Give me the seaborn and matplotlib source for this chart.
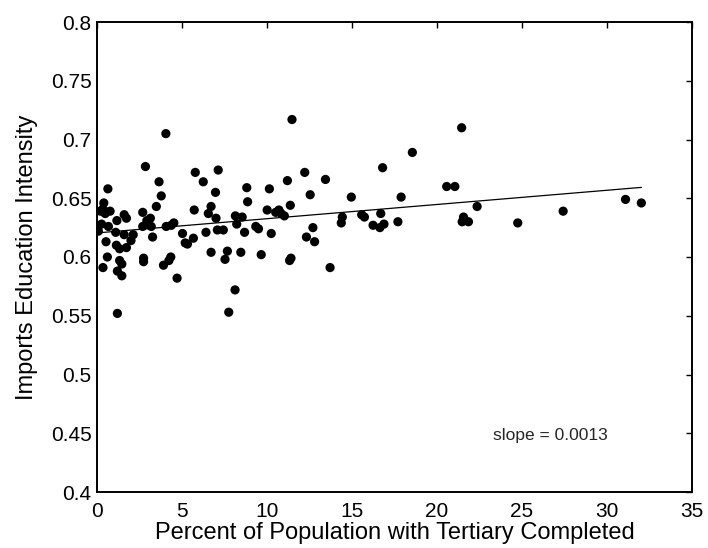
import numpy as np
import pandas as pd
import matplotlib
matplotlib.use("Agg")
import matplotlib.pyplot as plt
import seaborn as sns

# --------------------------------------------------
# Data
# --------------------------------------------------
tertiary_pct = [
    0.08, 0.27, 0.2, 0.4, 0.35, 0.48, 0.35, 0.64, 0.53, 0.61,
    0.67, 0.77, 1.1, 1.17, 1.14, 1.2, 1.2, 1.33, 1.33, 1.46,
    1.46, 1.6, 1.6, 1.73, 1.73, 2.0, 2.13, 2.69, 2.69, 2.74,
    2.74, 2.85, 2.93, 3.14, 3.19, 3.27, 3.49, 3.65, 3.78, 3.91,
    4.05, 4.07, 4.23, 4.34, 4.37, 4.52, 4.71, 5.03, 5.19, 5.32,
    5.67, 5.72, 5.78, 6.25, 6.41, 6.55, 6.71, 6.71, 6.97, 7.0,
    7.13, 7.08, 7.43, 7.53, 7.67, 7.75, 8.12, 8.14, 8.22, 8.46,
    8.54, 8.68, 8.81, 8.86, 9.34, 9.5, 9.66, 10.01, 10.14, 10.25,
    10.51, 10.7, 10.83, 11.02, 11.2, 11.33, 11.41, 11.37, 11.47, 12.22,
    12.32, 12.54, 12.7, 12.8, 13.44, 13.71, 14.37, 14.43, 14.96, 15.57,
    15.73, 16.24, 16.64, 16.69, 16.8, 16.88, 17.7, 17.89, 18.55, 20.57,
    21.05, 21.45, 21.48, 21.56, 21.85, 22.36, 24.75, 27.42, 31.09, 32.02,
]
edu_intensity = [
    0.622, 0.628, 0.639, 0.646, 0.641, 0.637, 0.591, 0.658, 0.613, 0.600,
    0.626, 0.639, 0.621, 0.631, 0.610, 0.588, 0.552, 0.607, 0.597, 0.594,
    0.584, 0.636, 0.619, 0.633, 0.608, 0.614, 0.619, 0.638, 0.626, 0.599,
    0.596, 0.677, 0.631, 0.633, 0.626, 0.617, 0.643, 0.664, 0.652, 0.593,
    0.705, 0.626, 0.597, 0.600, 0.627, 0.629, 0.582, 0.620, 0.612, 0.611,
    0.616, 0.640, 0.672, 0.664, 0.621, 0.637, 0.643, 0.604, 0.655, 0.633,
    0.674, 0.623, 0.623, 0.598, 0.605, 0.553, 0.572, 0.635, 0.628, 0.604,
    0.634, 0.621, 0.659, 0.647, 0.626, 0.624, 0.602, 0.640, 0.658, 0.620,
    0.638, 0.640, 0.637, 0.635, 0.665, 0.597, 0.599, 0.644, 0.717, 0.672,
    0.617, 0.653, 0.625, 0.613, 0.666, 0.591, 0.629, 0.634, 0.651, 0.636,
    0.634, 0.627, 0.625, 0.637, 0.676, 0.628, 0.630, 0.651, 0.689, 0.660,
    0.660, 0.710, 0.630, 0.634, 0.630, 0.643, 0.629, 0.639, 0.649, 0.646,
]

# fitted line as drawn in the reference
fit_intercept = 0.6205
fit_slope = 0.00121
slope_label = "slope = 0.0013"

x_ticks = [0, 5, 10, 15, 20, 25, 30, 35]
y_ticks = [0.4, 0.45, 0.5, 0.55, 0.6, 0.65, 0.7, 0.75, 0.8]
y_tick_labels = ["0.4", "0.45", "0.5", "0.55", "0.6", "0.65", "0.7", "0.75", "0.8"]

df = pd.DataFrame({"tertiary": tertiary_pct, "intensity": edu_intensity})

x_fit = np.array([min(tertiary_pct), max(tertiary_pct)])
fit_df = pd.DataFrame({"x": x_fit, "y": fit_intercept + fit_slope * x_fit})

# --------------------------------------------------
# Plot
# --------------------------------------------------
sns.set_style("white")
plt.rcParams["font.family"] = ["Liberation Sans", "DejaVu Sans"]

fig = plt.figure(figsize=(7.08, 5.48), dpi=100)
ax = fig.add_axes([97 / 708, 1 - 492 / 548, 595 / 708, 470 / 548])

sns.scatterplot(data=df, x="tertiary", y="intensity", ax=ax,
                color="black", edgecolor="none", s=44, linewidth=0)
sns.lineplot(data=fit_df, x="x", y="y", ax=ax, color="black", linewidth=0.9)

ax.set_xlim(0, 35)
ax.set_ylim(0.4, 0.8)
ax.set_xticks(x_ticks)
ax.set_yticks(y_ticks)
ax.set_yticklabels(y_tick_labels)

ax.tick_params(direction="in", length=4.5, width=1, top=True, right=True,
               labelsize=15, colors="black")
ax.tick_params(axis="x", pad=7)
ax.tick_params(axis="y", pad=4)
for s in ax.spines.values():
    s.set_visible(True)
    s.set_color("black")
    s.set_linewidth(1.4)

ax.set_xlabel("Percent of Population with Tertiary Completed",
              fontsize=17, labelpad=1, color="black")
ax.set_ylabel("Imports Education Intensity", fontsize=17, labelpad=9, color="black")

ax.text(23.3, 0.448, slope_label, fontsize=12.5, va="center", ha="left")

fig.savefig("out.png", dpi=100)
plt.close(fig)
